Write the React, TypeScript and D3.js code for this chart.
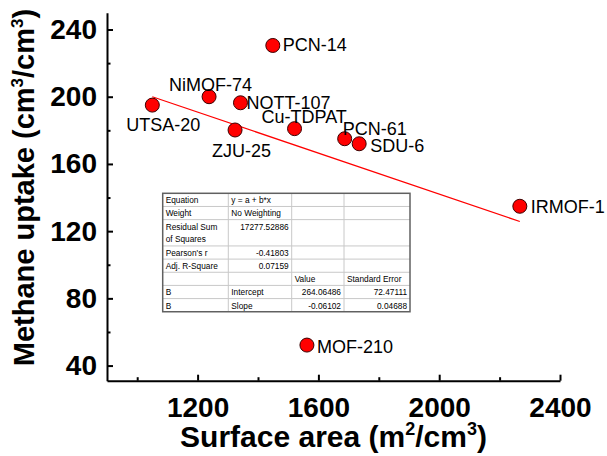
import * as d3 from 'd3';
import { useEffect, useRef } from 'react';

// Surface area vs methane uptake, one point per framework
const names = ['UTSA-20', 'NiMOF-74', 'NOTT-107', 'PCN-14', 'ZJU-25', 'Cu-TDPAT', 'PCN-61', 'SDU-6', 'IRMOF-1', 'MOF-210'];
const surfaceArea = [1050, 1238, 1342, 1449, 1324, 1521, 1687, 1735, 2267, 1562];
const methaneUptake = [195, 200, 196.4, 230.5, 180.2, 181, 175, 172, 134.8, 52.2];

const xTicks = [1200, 1600, 2000, 2400];
const xMinor = [1000, 1400, 1800, 2200];
const yTicks = [40, 80, 120, 160, 200, 240];
const yMinor = [60, 100, 140, 180, 220];

// linear fit result
const fitIntercept = 264.06486;
const fitSlope = -0.06102;

const tableRows: string[][] = [
  ['Equation', 'y = a + b*x', '', ''],
  ['Weight', 'No Weighting', '', ''],
  ['Residual Sum\nof Squares', '17277.52886', '', ''],
  ["Pearson's r", '-0.41803', '', ''],
  ['Adj. R-Square', '0.07159', '', ''],
  ['', '', 'Value', 'Standard Error'],
  ['B', 'Intercept', '264.06486', '72.47111'],
  ['B', 'Slope', '-0.06102', '0.04688'],
];

// label placement relative to each point (px): [dx, baseline dy]
const labelOffsets: [number, number][] = [
  [-26, 26], [-40, -6], [6, 6], [10, 6], [-23, 27],
  [-33, -6], [-2, -4], [11, 8], [11, 7], [10, 8],
];

const FONT = '"Liberation Sans", Arial, sans-serif';

export default function App() {
  const ref = useRef<SVGSVGElement | null>(null);

  useEffect(() => {
    const svg = d3.select(ref.current);
    const width = 607;
    const height = 456;
    const margin = { top: 12.7, right: 47, bottom: 75.3, left: 107 };

    svg.selectAll('*').remove();
    svg.attr('width', width).attr('height', height).style('font-family', FONT);

    const x = d3.scaleLinear()
      .domain([900, 2400])
      .range([margin.left, width - margin.right]);

    const y = d3.scaleLinear()
      .domain([31, 250])
      .range([height - margin.bottom, margin.top]);

    // axes
    const xAxis = svg.append('g')
      .attr('transform', `translate(0,${height - margin.bottom})`)
      .call(d3.axisBottom(x).tickValues(xTicks).tickSizeInner(-6).tickSizeOuter(0).tickPadding(16).tickFormat(d3.format('d')));
    svg.append('g')
      .attr('transform', `translate(0,${height - margin.bottom})`)
      .call(d3.axisBottom(x).tickValues(xMinor).tickSize(-3.5).tickFormat(() => ''))
      .call((g: any) => g.select('.domain').remove());

    const yAxis = svg.append('g')
      .attr('transform', `translate(${margin.left},0)`)
      .call(d3.axisLeft(y).tickValues(yTicks).tickSizeInner(-6).tickSizeOuter(0).tickPadding(10));
    svg.append('g')
      .attr('transform', `translate(${margin.left},0)`)
      .call(d3.axisLeft(y).tickValues(yMinor).tickSize(-3.5).tickFormat(() => ''))
      .call((g: any) => g.select('.domain').remove());

    svg.selectAll('.domain, .tick line').attr('stroke', '#000').attr('stroke-width', 2);
    [xAxis, yAxis].forEach((g: any) => g.selectAll('text')
      .attr('fill', '#000')
      .style('font-family', FONT)
      .style('font-size', '28px')
      .style('font-weight', 'bold'));

    // axis titles
    const xTitle = svg.append('text')
      .attr('x', 333.5).attr('y', 447)
      .attr('text-anchor', 'middle')
      .style('font-size', '30px').style('font-weight', 'bold');
    xTitle.append('tspan').text('Surface area (m');
    xTitle.append('tspan').attr('dy', -12).style('font-size', '18px').text('2');
    xTitle.append('tspan').attr('dy', 12).text('/cm');
    xTitle.append('tspan').attr('dy', -12).style('font-size', '18px').text('3');
    xTitle.append('tspan').attr('dy', 12).text(')');

    const yTitle = svg.append('text')
      .attr('transform', 'translate(34,187.5) rotate(-90)')
      .attr('text-anchor', 'middle')
      .style('font-size', '29px').style('font-weight', 'bold');
    yTitle.append('tspan').text('Methane uptake (cm');
    yTitle.append('tspan').attr('dy', -11).style('font-size', '17px').text('3');
    yTitle.append('tspan').attr('dy', 11).text('/cm');
    yTitle.append('tspan').attr('dy', -11).style('font-size', '17px').text('3');
    yTitle.append('tspan').attr('dy', 11).text(')');

    // fit line over the data range
    const [xmin, xmax] = d3.extent(surfaceArea) as [number, number];
    svg.append('path')
      .datum([xmin, xmax])
      .attr('fill', 'none')
      .attr('stroke', '#ff0000')
      .attr('stroke-width', 1.2)
      .attr('d', d3.line<number>()
        .x(d => x(d))
        .y(d => y(fitIntercept + fitSlope * d)));

    // points + labels
    const pts = names.map((n, i) => ({ name: n, sa: surfaceArea[i], mu: methaneUptake[i], off: labelOffsets[i] }));
    svg.append('g').selectAll('circle')
      .data(pts).join('circle')
      .attr('cx', d => x(d.sa))
      .attr('cy', d => y(d.mu))
      .attr('r', 7)
      .attr('fill', '#ff0000')
      .attr('stroke', '#3a0000')
      .attr('stroke-width', 1);
    svg.append('g').selectAll('text')
      .data(pts).join('text')
      .attr('x', d => x(d.sa) + d.off[0])
      .attr('y', d => y(d.mu) + d.off[1])
      .style('font-size', '18px')
      .attr('fill', '#000')
      .text(d => d.name);

    // fit result table
    const tLeft = 162.7;
    const tTop = 193.3;
    const colW = [65.6, 63.4, 52.3, 66];
    const unit = 13.16;
    const rowUnits = tableRows.map(r => r[0].includes('\n') ? 2 : 1);
    const colX = colW.reduce((acc: number[], w) => [...acc, acc[acc.length - 1] + w], [tLeft]);
    const rowY = rowUnits.reduce((acc: number[], u) => [...acc, acc[acc.length - 1] + u * unit], [tTop]);
    const table = svg.append('g').style('font-size', '8.3px');
    table.append('rect')
      .attr('x', tLeft).attr('y', tTop)
      .attr('width', colX[4] - tLeft).attr('height', rowY[rowY.length - 1] - tTop)
      .attr('fill', '#fff');
    rowY.slice(1, -1).forEach(yy => table.append('line')
      .attr('x1', tLeft).attr('x2', colX[4]).attr('y1', yy).attr('y2', yy)
      .attr('stroke', '#c8c8c8').attr('stroke-width', 1));
    colX.slice(1, -1).forEach(xx => table.append('line')
      .attr('x1', xx).attr('x2', xx).attr('y1', tTop).attr('y2', rowY[rowY.length - 1])
      .attr('stroke', '#c8c8c8').attr('stroke-width', 1));
    table.append('rect')
      .attr('x', tLeft).attr('y', tTop)
      .attr('width', colX[4] - tLeft).attr('height', rowY[rowY.length - 1] - tTop)
      .attr('fill', 'none').attr('stroke', '#606060').attr('stroke-width', 1.5);

    const isNum = (s: string) => /^-?[\d.]+$/.test(s);
    tableRows.forEach((row, ri) => {
      row.forEach((cell, ci) => {
        if (!cell) return;
        const num = isNum(cell);
        const t = table.append('text')
          .attr('x', num ? colX[ci + 1] - 3 : colX[ci] + 3)
          .attr('y', rowY[ri] + 10)
          .attr('text-anchor', num ? 'end' : 'start')
          .attr('fill', '#000');
        cell.split('\n').forEach((line, li) => {
          t.append('tspan')
            .attr('x', num ? colX[ci + 1] - 3 : colX[ci] + 3)
            .attr('dy', li === 0 ? 0 : 12)
            .text(line);
        });
      });
    });
  }, []);

  return <svg ref={ref} style={{ position: 'absolute', left: 0, top: 0 }}></svg>;
}
